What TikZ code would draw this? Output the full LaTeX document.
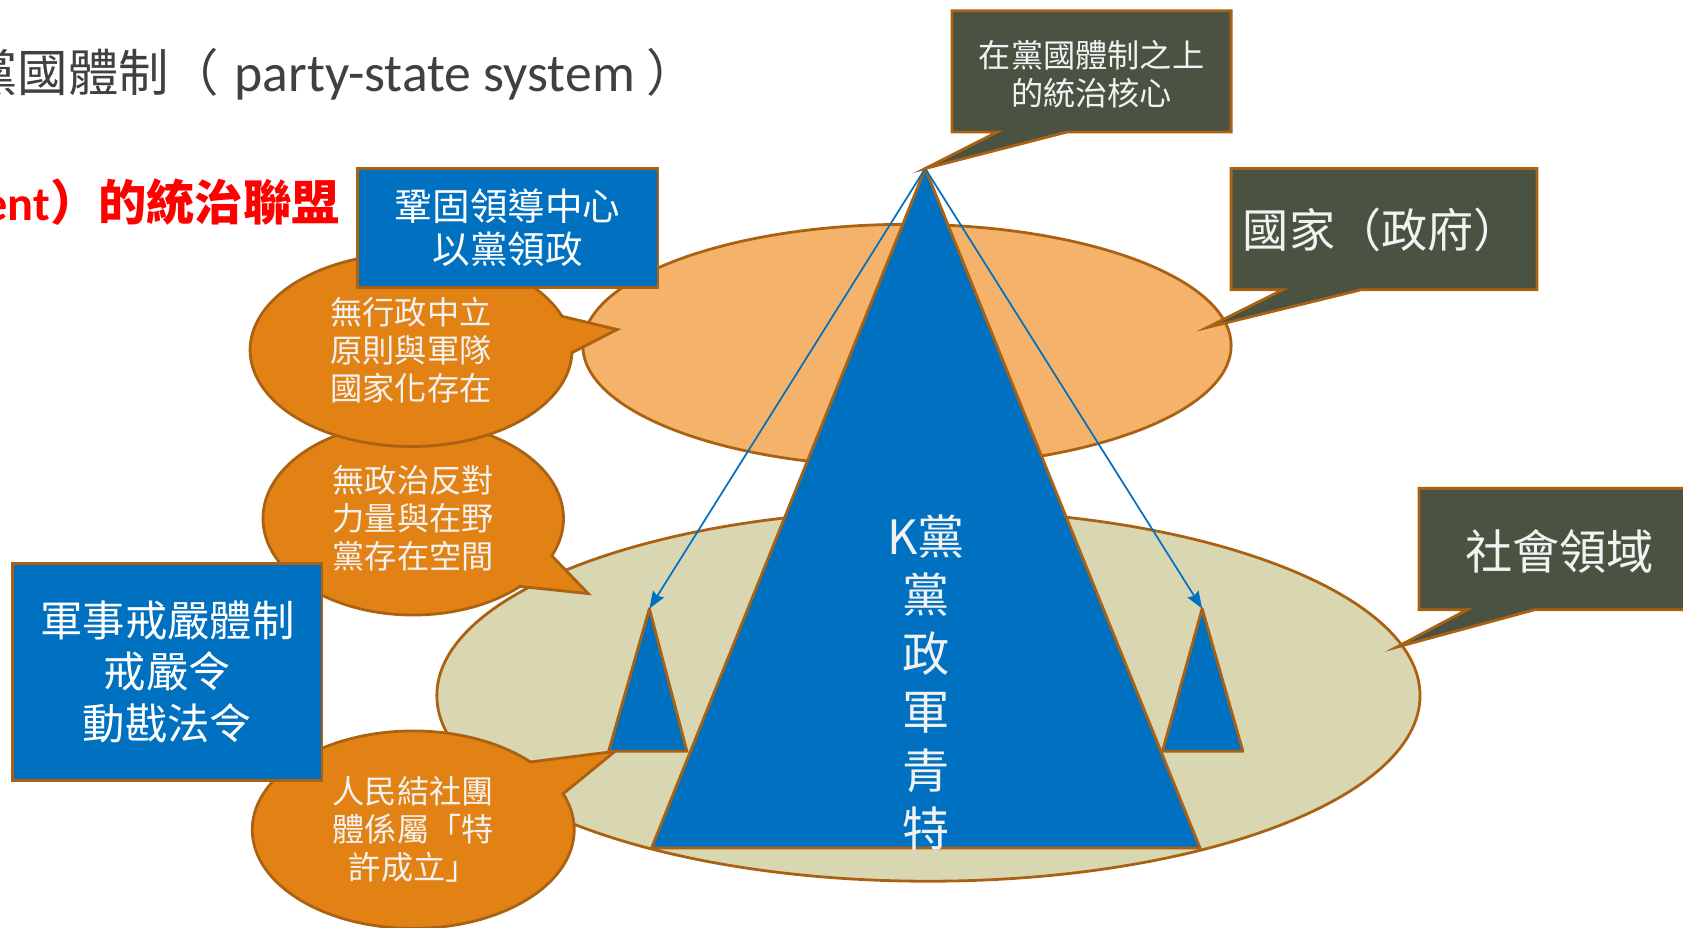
\documentclass[tikz,border=0pt]{standalone}
\usepackage{fontspec}
\setmainfont{Carlito}
\newfontfamily\cjk{Noto Sans CJK TC}
\usetikzlibrary{arrows.meta,shapes.callouts}
\definecolor{kblue}{RGB}{0,112,192}
\definecolor{kedge}{RGB}{170,98,18}
\definecolor{korange}{RGB}{227,130,20}
\definecolor{kpeach}{RGB}{244,178,106}
\definecolor{kbeige}{RGB}{217,215,178}
\definecolor{kslate}{RGB}{74,83,66}
\definecolor{kgray}{RGB}{64,64,64}
\definecolor{ktext}{RGB}{242,242,242}
\tikzset{
    sphere/.style={draw=kedge, line width=1.3pt},
    cone/.style={draw=kedge, fill=kblue, line width=1.3pt, line join=round},
    link/.style={draw=kblue, line width=0.8pt, -{Stealth[length=8pt, width=6pt, inset=1pt]}},
    slatebox/.style={draw=kedge, fill=kslate, line width=1.3pt, line join=miter},
    slatetext/.style={text=ktext, align=center, inner sep=0pt},
    bubble/.style={ellipse callout, draw=kedge, fill=korange, line width=1.3pt, text=ktext,
        align=center, inner sep=0pt, callout pointer arc=22,
        font=\cjk\fontsize{15pt}{17.75pt}\selectfont},
    bluebox/.style={rectangle, draw=kedge, fill=kblue, line width=1.3pt, text=white,
        align=center, inner sep=0pt}
}
\begin{document}
\begin{tikzpicture}[x=0.5pt, y=0.5pt]
  \useasboundingbox (0,0) rectangle (1568,864);
  % state and society
  \draw[sphere, fill=kpeach] (845,542) ellipse [x radius=302, y radius=113];
  \draw[sphere, fill=kbeige] (865,216) ellipse [x radius=458, y radius=173];
  % party pyramids
  \coordinate (apex) at (862,707);
  \coordinate (leftapex) at (605,297);
  \coordinate (rightapex) at (1120,297);
  \draw[cone] (apex) -- (1118,74) -- (607,74) -- cycle;
  \draw[cone] (leftapex) -- (640,164) -- (567,164) -- cycle;
  \draw[cone] (rightapex) -- (1158,164) -- (1083,164) -- cycle;
  \draw[link] (apex) -- (leftapex);
  \draw[link] (apex) -- (rightapex);
  \node[text=ktext, align=center, font=\cjk\fontsize{22pt}{27.25pt}\selectfont] (party) at (863,228)
    {K黨\\黨\\政\\軍\\青\\特};
  % dark labels
  \draw[slatebox] (887,741) -- (929,741) -- (apex) -- (994,741) -- (1147,741)
    -- (1147,854) -- (887,854) -- cycle;
  \node[slatetext, font=\cjk\fontsize{15pt}{17.5pt}\selectfont] (core) at (1017,795)
    {在黨國體制之上\\的統治核心};
  \draw[slatebox] (1147,594) -- (1195,594) -- (1125,559) -- (1268,594) -- (1432,594)
    -- (1432,707) -- (1147,707) -- cycle;
  \node[slatetext, font=\cjk\fontsize{21.5pt}{25pt}\selectfont] (state) at (1287,650) {國家（政府）};
  \draw[slatebox] (1322,296) -- (1367,296) -- (1301,261) -- (1430,296) -- (1600,296)
    -- (1600,409) -- (1322,409) -- cycle;
  \node[slatetext, font=\cjk\fontsize{22pt}{26pt}\selectfont] (society) at (1453,350) {社會領域};
  % speech bubbles
  \node[bubble, minimum width=140pt, minimum height=90pt, callout absolute pointer={(548,311)}]
    (opposition) at (385,381) {無政治反對\\力量與在野\\黨存在空間};
  \node[bubble, minimum width=150pt, minimum height=90pt, callout absolute pointer={(575,557)}]
    (neutral) at (383,538) {無行政中立\\原則與軍隊\\國家化存在};
  \node[bubble, minimum width=150pt, minimum height=92pt, callout absolute pointer={(573,164)}]
    (assoc) at (385,91) {人民結社團\\體係屬「特\\許成立」};
  % blue boxes
  \node[bluebox, minimum width=140pt, minimum height=55.5pt,
    font=\cjk\fontsize{17.5pt}{20pt}\selectfont] (lead) at (473,651.5) {鞏固領導中心\\以黨領政};
  \node[bluebox, minimum width=144pt, minimum height=101pt,
    font=\cjk\fontsize{19.75pt}{24pt}\selectfont] (martial) at (156,238) {軍事戒嚴體制\\戒嚴令\\動戡法令};
  % headings
  \node[anchor=base west, inner sep=0pt, text=kgray, font=\fontsize{23.5pt}{28pt}\selectfont]
    (title) at (-31,779) {{\cjk 黨國體制（}\hspace{7pt}{\fontsize{25pt}{28pt}\selectfont party-state system} {\cjk ）}};
  \node[anchor=base east, inner sep=0pt, text=red, font=\bfseries\fontsize{22.5pt}{27pt}\selectfont]
    (alliance) at (317,659) {ent{\cjk ）的統治聯盟}};
\end{tikzpicture}
\end{document}
